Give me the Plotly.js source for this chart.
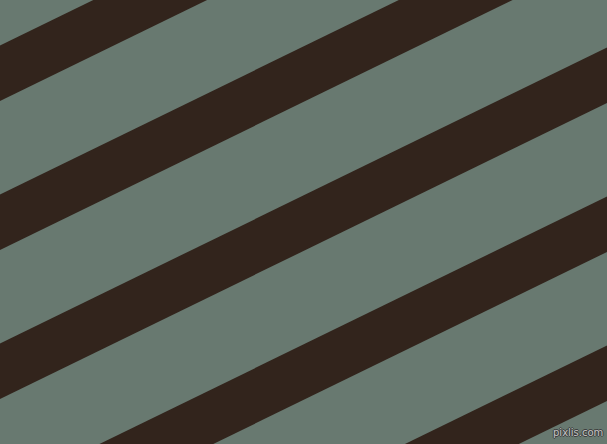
<!DOCTYPE html>
<html>
<head>
<meta charset="utf-8">
<script src="https://cdn.plot.ly/plotly-3.0.1.min.js"></script>
<style>
  html, body { margin: 0; padding: 0; background: #687970; }
  #chart { width: 607px; height: 444px; }
</style>
</head>
<body>
<div id="chart"></div>
<script>
// stripe upper edges where they meet the left side (px from top)
var stripeStarts = [45.5, 194.5, 343.5, 492.5, 641.5];
var stripeThickness = 55.5;  // vertical thickness of each dark band
var stripeSlope = 0.4877;    // tan(26deg), rise per px going right
var bgColor = '#687970';
var stripeColor = '#32241c';

var xs = [-20, 640];

var traces = stripeStarts.map(function (c) {
  return {
    x: [xs[0], xs[1], xs[1], xs[0], xs[0]],
    y: [c - stripeSlope * xs[0], c - stripeSlope * xs[1],
        c + stripeThickness - stripeSlope * xs[1], c + stripeThickness - stripeSlope * xs[0],
        c - stripeSlope * xs[0]],
    type: 'scatter',
    mode: 'lines',
    fill: 'toself',
    fillcolor: stripeColor,
    line: {width: 0, color: stripeColor},
    hoverinfo: 'skip',
    showlegend: false
  };
});

var layout = {
  width: 607,
  height: 444,
  margin: {l: 0, r: 0, t: 0, b: 0, pad: 0},
  paper_bgcolor: bgColor,
  plot_bgcolor: bgColor,
  xaxis: {range: [0, 607], visible: false, fixedrange: true},
  yaxis: {range: [444, 0], visible: false, fixedrange: true},
  annotations: [{
    text: 'pixlis.com',
    xref: 'paper', yref: 'paper',
    x: 0.996, y: 0.008,
    xanchor: 'right', yanchor: 'bottom',
    showarrow: false,
    font: {
      family: 'DejaVu Sans', size: 10, color: '#c4c4c4',
      shadow: '1px 0 0 #3a3a3a, -1px 0 0 #3a3a3a, 0 1px 0 #3a3a3a, 0 -1px 0 #3a3a3a'
    }
  }]
};

Plotly.newPlot('chart', traces, layout, {staticPlot: true, displayModeBar: false});
</script>
</body>
</html>
